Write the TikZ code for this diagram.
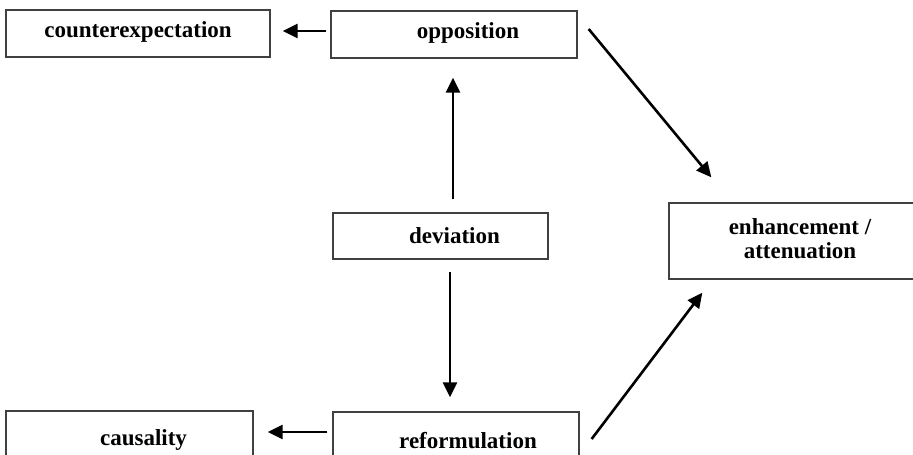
\documentclass[tikz,border=0pt]{standalone}
\usepackage{fontspec}
\setmainfont{Liberation Serif}
\usetikzlibrary{arrows.meta, positioning, calc}

\begin{document}
\begin{tikzpicture}[x=1pt, y=-1pt,
  cat/.style={draw=black!75, line width=1.3pt, inner sep=0pt},
  lbl/.style={font=\fontsize{23}{24}\selectfont\bfseries, align=center, inner sep=0pt},
  rel/.style={-{Triangle[length=15pt, width=14pt]}, line width=2.6pt}]
  \useasboundingbox (0,0) rectangle (913,455);
  \clip (0,0) rectangle (913,455);

  % Top row
  \node[cat, minimum width=264pt, minimum height=47pt,
    label={[lbl, yshift=2pt]center:counterexpectation}] (cexp) at (138,33.5) {};
  \node[cat, minimum width=246pt, minimum height=47pt,
    label={[lbl, xshift=14pt, yshift=2pt]center:opposition}] (opp) at (454,34.5) {};

  % Middle
  \node[cat, minimum width=215pt, minimum height=46pt,
    label={[lbl, xshift=14pt]center:deviation}] (dev) at (440.5,236) {};
  \node[cat, minimum width=262pt, minimum height=76pt,
    label={[lbl, yshift=2pt]center:enhancement /\\ attenuation}] (enh) at (800,241) {};

  % Bottom row (cut off by the page edge)
  \node[cat, minimum width=247pt, minimum height=64pt,
    label={[lbl, xshift=14pt, yshift=3pt]center:causality}] (caus) at (129.5,443) {};
  \node[cat, minimum width=246pt, minimum height=64pt,
    label={[lbl, xshift=12pt, yshift=3pt]center:reformulation}] (ref) at (456,444) {};

  % Relations
  \draw[rel, shorten <=4pt, shorten >=12pt] ([yshift=3.5pt]opp.west) -- ([yshift=2.5pt]cexp.east);
  \draw[rel, shorten <=13pt, shorten >=19pt] ([xshift=12.5pt]dev.north) -- ([xshift=-1pt]opp.south);
  \draw[rel, shorten <=12pt, shorten >=14pt] ([xshift=9.5pt]dev.south) -- ([xshift=-6pt]ref.north);
  \draw[rel, shorten <=5pt, shorten >=14pt] ([yshift=12pt]ref.west) -- ([yshift=11pt]caus.east);
  \draw[rel] ([shift={(11pt,5.5pt)}]opp.east) -- ([shift={(43pt,25pt)}]enh.north west);
  \draw[rel] ([shift={(12pt,5pt)}]ref.east) -- ([shift={(34pt,-13pt)}]enh.south west);
\end{tikzpicture}
\end{document}
